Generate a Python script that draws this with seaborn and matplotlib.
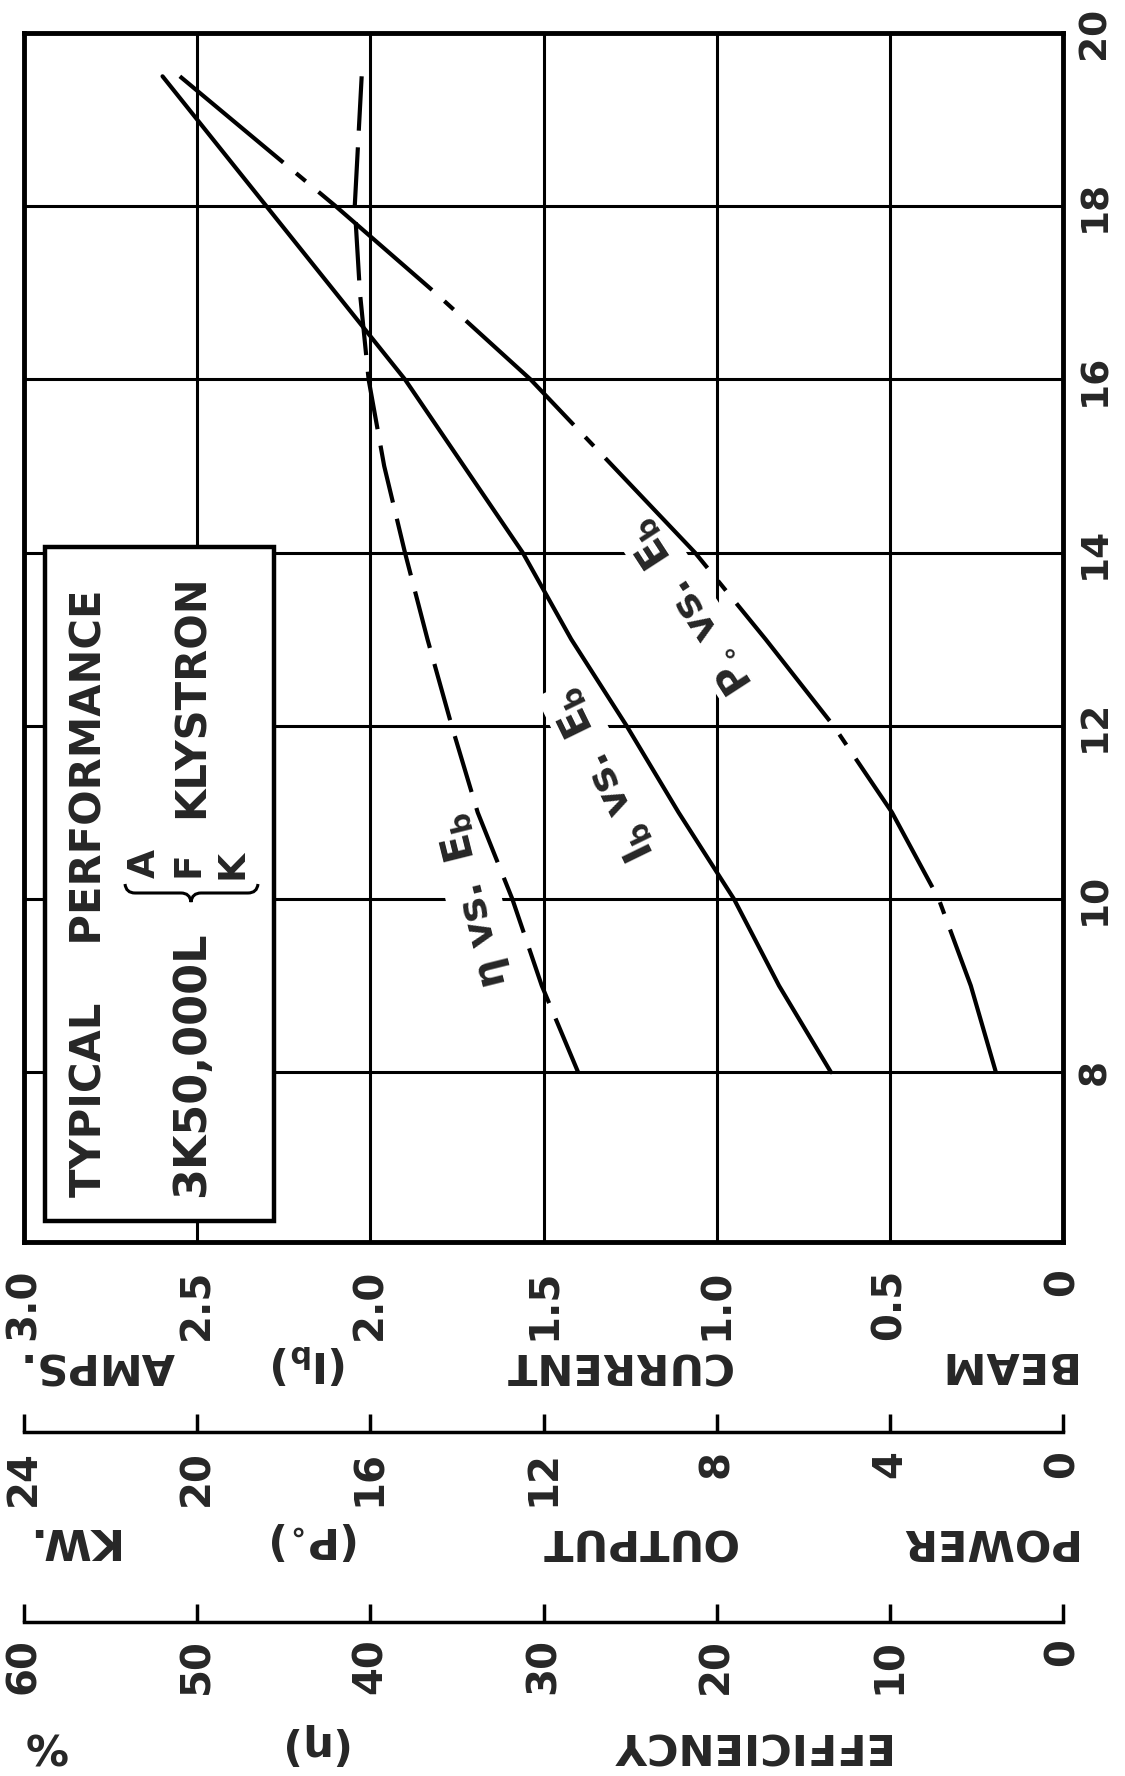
import numpy as np
import pandas as pd
import seaborn as sns
import matplotlib
matplotlib.use("Agg")
import matplotlib.pyplot as plt
from matplotlib.transforms import Affine2D
from matplotlib.patches import Rectangle, PathPatch
from matplotlib.path import Path

# ---------------- data ----------------
eb_kv = [8, 9, 10, 11, 12, 13, 14, 15, 16, 17, 18, 19.5]
beam_current_a = [0.67, 0.82, 0.95, 1.11, 1.26, 1.42, 1.56, 1.73, 1.90, 2.10, 2.30, 2.60]
efficiency_pct = [28.0, 30.1, 31.8, 33.8, 35.3, 36.7, 38.0, 39.2, 40.1, 40.6, 40.9, 40.5]
output_power_kw = [1.55, 2.13, 2.87, 3.95, 5.3, 6.87, 8.5, 10.4, 12.3, 14.5, 16.8, 20.4]

eb_ticks = [8, 10, 12, 14, 16, 18, 20]
eb_labels = ["8", "10", "12", "14", "16", "18", "20"]
current_ticks = [0, 0.5, 1.0, 1.5, 2.0, 2.5, 3.0]
current_labels = ["0", "0.5", "1.0", "1.5", "2.0", "2.5", "3.0"]
power_ticks = [0, 4, 8, 12, 16, 20, 24]
power_labels = ["0", "4", "8", "12", "16", "20", "24"]
eff_ticks = [0, 10, 20, 30, 40, 50, 60]
eff_labels = ["0", "10", "20", "30", "40", "50", "60"]

# ---------------- style ----------------
sns.set_style("white")
plt.rcParams.update({
    "font.family": ["DejaVu Sans"],
    "font.weight": "bold",
    "mathtext.fontset": "custom",
    "mathtext.rm": "DejaVu Sans:bold",
    "mathtext.it": "DejaVu Sans:bold",
    "mathtext.bf": "DejaVu Sans:bold",
    "mathtext.sf": "DejaVu Sans:bold",
})

W, H = 1125, 1776
fig = plt.figure(figsize=(W / 100, H / 100), dpi=100)
fig.patch.set_facecolor("white")
# pixel coordinates (y down) -> display
pix = Affine2D().scale(1 / 100, -1 / 100).translate(0, H / 100) + fig.dpi_scale_trans

L, R, T, B = 24, 1063, 33, 1242
ax = fig.add_axes([L / W, 1 - B / H, (R - L) / W, (B - T) / H])

CURVE_LW = 3.0

# beam current on main axes
sns.lineplot(x=beam_current_a, y=eb_kv, ax=ax, sort=False, estimator=None,
             color="black", lw=CURVE_LW, zorder=3)

# power on twin axes
axp = ax.twiny()
sns.lineplot(x=output_power_kw, y=eb_kv, ax=axp, sort=False, estimator=None,
             color="black", lw=CURVE_LW, linestyle=(0, (36, 4, 3, 4)), zorder=3)

# efficiency on twin axes
axe = ax.twiny()
sns.lineplot(x=efficiency_pct, y=eb_kv, ax=axe, sort=False, estimator=None,
             color="black", lw=CURVE_LW, linestyle=(0, (14, 4)), zorder=3)

# ---------------- main axes ----------------
ax.set_xlim(3.0, 0)
ax.set_ylim(6.04, 20.0)
ax.set_xticks(current_ticks)
ax.set_xticklabels(current_labels)
ax.set_yticks(eb_ticks)
ax.set_yticklabels(eb_labels)
ax.set_xlabel("")
ax.set_ylabel("")
ax.set_axisbelow(True)
ax.grid(True, color="black", lw=2.2)
for s in ax.spines.values():
    s.set_visible(True)
    s.set_color("black")
    s.set_linewidth(3.5)
ax.yaxis.tick_right()
ax.tick_params(axis="y", length=0, pad=10, labelsize=27, labelrotation=90,
               left=False, labelleft=False, right=True, labelright=True)
for lab in ax.get_yticklabels():
    lab.set_va("center")
ax.tick_params(axis="x", length=0, pad=19, labelsize=29, labelrotation=90)

# ---------------- secondary scales ----------------
def style_secondary(a, lim, ticks, labels, offset_px, pad):
    a.set_xlim(*lim)
    a.set_xticks(ticks)
    a.set_xticklabels(labels)
    a.set_xlabel("")
    a.set_ylabel("")
    a.xaxis.set_ticks_position("bottom")
    a.xaxis.set_label_position("bottom")
    a.spines["bottom"].set_position(("outward", offset_px * 0.72))
    for s in ["top", "left", "right"]:
        a.spines[s].set_visible(False)
    a.spines["bottom"].set_visible(True)
    a.spines["bottom"].set_color("black")
    a.spines["bottom"].set_linewidth(2.5)
    a.tick_params(axis="x", direction="in", length=13, width=2.5, color="black",
                  pad=pad, labelsize=29, labelrotation=90)
    a.grid(False)

style_secondary(axp, (24, 0), power_ticks, power_labels, 1432 - B, 13)
style_secondary(axe, (60, 0), eff_ticks, eff_labels, 1622 - B, 11.5)
ax.set_ylim(6.04, 20.0)

# ---------------- curve labels ----------------
bb = dict(boxstyle="square,pad=0.15", fc="white", ec="none")
ax.text(474, 900, r"$\eta\ vs.\ E_b$", transform=pix, rotation=104, rotation_mode="anchor",
        ha="center", va="center", fontsize=29, bbox=bb, zorder=2.5)
ax.text(603, 775, r"$I_b\ vs.\ E_b$", transform=pix, rotation=116, rotation_mode="anchor",
        ha="center", va="center", fontsize=29, bbox=bb, zorder=2.5)
ax.text(690, 606, r"$P_{\circ}\ vs.\ E_b$", transform=pix, rotation=123, rotation_mode="anchor",
        ha="center", va="center", fontsize=29, bbox=bb, zorder=2.5)

# ---------------- title box ----------------
box = Rectangle((45, 547), 229, 674, transform=pix, fc="white", ec="black", lw=3.2, zorder=2.6)
ax.add_patch(box)
ax.text(90, 1197, "TYPICAL    PERFORMANCE", transform=pix, rotation=90,
        ha="center", va="bottom", fontsize=30, zorder=2.7)
ax.text(192, 1197, "3K50,000L", transform=pix, rotation=90,
        ha="center", va="bottom", fontsize=32, zorder=2.7)
ax.text(192, 818, "KLYSTRON", transform=pix, rotation=90,
        ha="center", va="bottom", fontsize=30, zorder=2.7)
for letter, xc in zip(["A", "F", "K"], [145, 188, 233]):
    ax.text(xc, 864, letter, transform=pix, rotation=90, ha="center", va="center",
            fontsize=27, zorder=2.7)
brace_verts = [(125, 884), (126, 893), (135, 893), (181, 893), (190, 893), (191, 902),
               (192, 893), (201, 893), (248, 893), (257, 893), (258, 884)]
brace_codes = [Path.MOVETO, Path.CURVE3, Path.CURVE3, Path.LINETO, Path.CURVE3, Path.CURVE3,
               Path.CURVE3, Path.CURVE3, Path.LINETO, Path.CURVE3, Path.CURVE3]
ax.add_patch(PathPatch(Path(brace_verts, brace_codes), transform=pix, fill=False,
                       ec="black", lw=2.2, zorder=2.7))

# ---------------- axis titles (upside down) ----------------
def axis_word(x, y, s):
    ax.text(x, y, s, transform=pix, rotation=180, rotation_mode="anchor",
            ha="center", va="center", fontsize=31, clip_on=False)

for x, s in [(1005, "BEAM"), (617, "CURRENT"), (310, r"$(I_b)$"), (97, "AMPS.")]:
    axis_word(x, 1364, s)
for x, s in [(986, "POWER"), (637, "OUTPUT"), (315, r"$(P_{\circ})$"), (70, "KW.")]:
    axis_word(x, 1540, s)
for x, s in [(748, "EFFICIENCY"), (320, r"$(\eta)$"), (45, "%")]:
    axis_word(x, 1744, s)

fig.savefig("out.png", dpi=100, facecolor="white")
